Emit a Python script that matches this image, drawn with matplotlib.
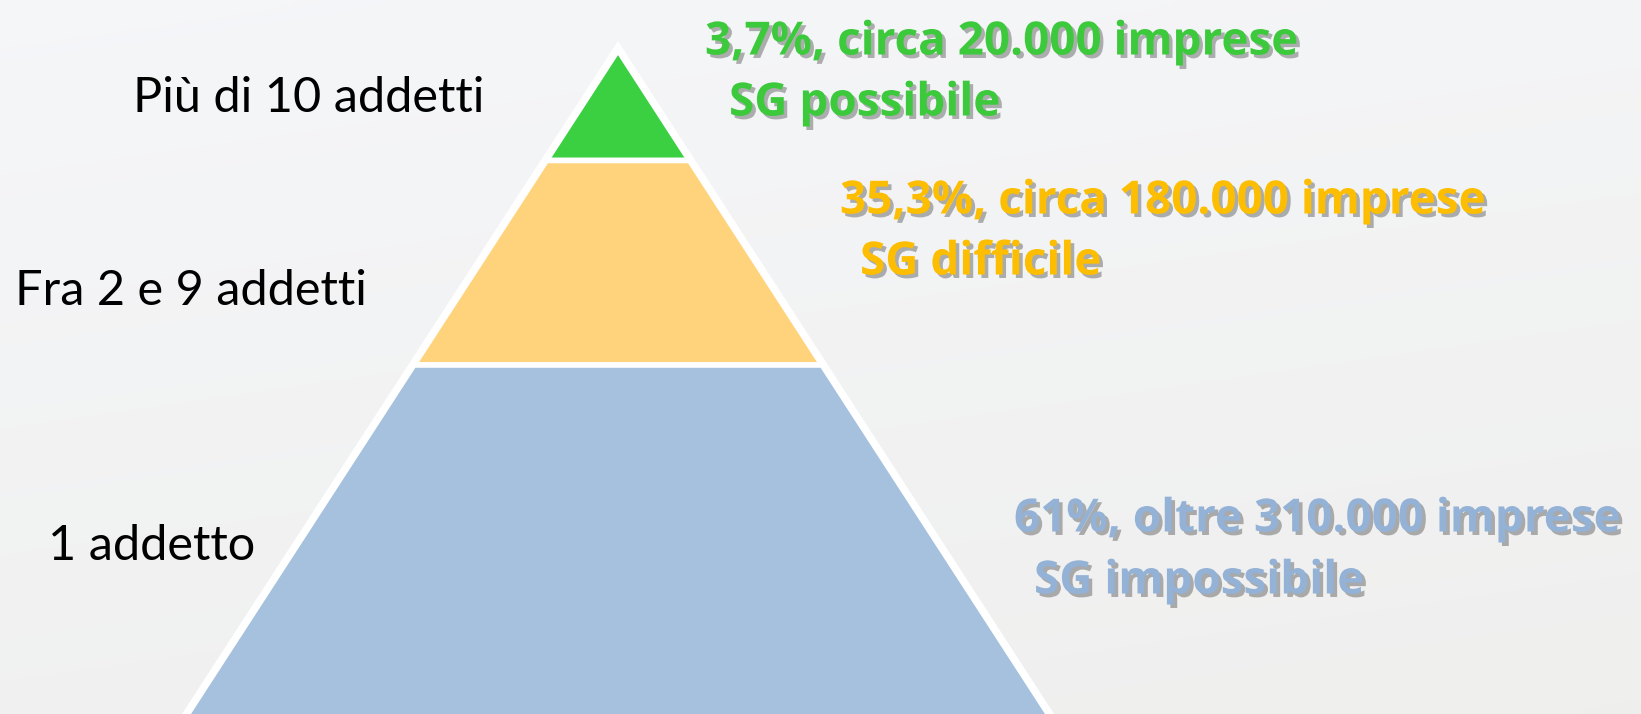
import numpy as np
import matplotlib
matplotlib.use("Agg")
import matplotlib.pyplot as plt
from matplotlib.patches import Polygon
import matplotlib.patheffects as pe

# ---- data ----
tier_labels = ["Più di 10 addetti", "Fra 2 e 9 addetti", "1 addetto"]
percent_labels = ["3,7%", "35,3%", "61%"]
count_labels = ["circa 20.000 imprese", "circa 180.000 imprese", "oltre 310.000 imprese"]
sg_labels = ["SG possibile", "SG difficile", "SG impossibile"]

# ---- styles / layout ----
tier_colors = ["#3ad042", "#ffd37c", "#a5c1de"]
text_colors = ["#3cc93c", "#fdbd00", "#93b2d6"]
W, H = 1641, 714
apex_x, apex_y = 618, 50
slope = 0.648                      # horizontal run per vertical pixel
tier_bounds = [apex_y, 160.5, 365, 780]
label_x = [133, 15, 48]
label_y = [112, 305, 560]
ann_x1 = [705, 840, 1014]
ann_y1 = [42, 201, 519]
ann_x2 = [729, 860, 1034]
ann_y2 = [103, 262, 581]

fig = plt.figure(figsize=(W / 100, H / 100), dpi=100)
ax = fig.add_axes([0, 0, 1, 1])
ax.set_xlim(0, W)
ax.set_ylim(H, 0)
ax.axis("off")

# background gradient
yy, xx = np.mgrid[0:1:60j, 0:1:120j]
top = np.array([0.962, 0.966, 0.975])
bot = np.array([0.937, 0.937, 0.933])
t = (0.75 * yy + 0.25 * xx)[..., None]
bg = top * (1 - t) + bot * t
ax.imshow(bg, extent=[0, W, H, 0], aspect="auto", zorder=0, interpolation="bicubic")


def half_width(y):
    return (y - apex_y) * slope


# white outer outline behind pyramid
yb = tier_bounds[-1]
outer = Polygon([[apex_x, apex_y], [apex_x + half_width(yb), yb], [apex_x - half_width(yb), yb]],
                closed=True, facecolor="white", edgecolor="white", linewidth=7.0, zorder=1)
ax.add_patch(outer)

for i in range(len(tier_labels)):
    y0, y1 = tier_bounds[i], tier_bounds[i + 1]
    if i == 0:
        pts = [[apex_x, y0], [apex_x + half_width(y1), y1], [apex_x - half_width(y1), y1]]
    else:
        pts = [[apex_x - half_width(y0), y0], [apex_x + half_width(y0), y0],
               [apex_x + half_width(y1), y1], [apex_x - half_width(y1), y1]]
    ax.add_patch(Polygon(pts, closed=True, facecolor=tier_colors[i], edgecolor="white",
                         linewidth=4.0, zorder=2))

shadow = [pe.withSimplePatchShadow(offset=(2.5, -2.5), shadow_rgbFace="#404040", alpha=0.4)]

for i in range(len(tier_labels)):
    ax.text(label_x[i], label_y[i], tier_labels[i], fontsize=35, family="Lato",
            color="black", ha="left", va="baseline", zorder=5)
    ax.text(ann_x1[i], ann_y1[i], f"{percent_labels[i]}, {count_labels[i]}", fontsize=33,
            family="Open Sans", fontweight="bold", color=text_colors[i], ha="left", va="center",
            zorder=5, path_effects=shadow)
    ax.text(ann_x2[i], ann_y2[i], sg_labels[i], fontsize=33,
            family="Open Sans", fontweight="bold", color=text_colors[i], ha="left", va="center",
            zorder=5, path_effects=shadow)

fig.savefig("out.png", dpi=100)
